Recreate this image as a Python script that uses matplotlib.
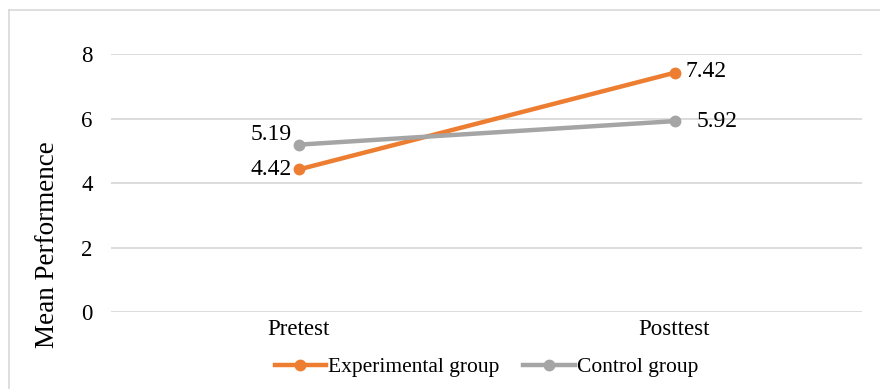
import matplotlib.pyplot as plt
from matplotlib.lines import Line2D

# data
categories = ['Pretest', 'Posttest']
experimental = [4.42, 7.42]
control = [5.19, 5.92]

plt.rcParams['font.family'] = ['Liberation Serif', 'DejaVu Serif']

fig = plt.figure(figsize=(8.8, 3.89), dpi=100)
ax = fig.add_axes([0.126, 0.198, 0.854, 0.663])

x = list(range(len(categories)))
ax.plot(x, experimental, color='#ED7D31', lw=3.2, marker='o', ms=7.5,
        label='Experimental group', zorder=3)
ax.plot(x, control, color='#A5A5A5', lw=3.2, marker='o', ms=7.5,
        label='Control group', zorder=3)

# data labels
lab_fs = 17
ax.annotate(f'{experimental[0]:.2f}', (x[0], experimental[0]), xytext=(-5, 0),
            textcoords='offset points', ha='right', va='center', fontsize=lab_fs)
ax.annotate(f'{control[0]:.2f}', (x[0], control[0]), xytext=(-5, 7),
            textcoords='offset points', ha='right', va='center', fontsize=lab_fs)
ax.annotate(f'{experimental[1]:.2f}', (x[1], experimental[1]), xytext=(8, 1),
            textcoords='offset points', ha='left', va='center', fontsize=lab_fs)
ax.annotate(f'{control[1]:.2f}', (x[1], control[1]), xytext=(16, 0),
            textcoords='offset points', ha='left', va='center', fontsize=lab_fs)

ax.set_xlim(-0.5, 1.5)
ax.set_ylim(0, 8)
ax.set_yticks([0, 2, 4, 6, 8])
ax.set_xticks(x)
ax.set_xticklabels(categories)
ax.tick_params(axis='both', length=0, labelsize=16.5)
ax.tick_params(axis='y', pad=13)
ax.tick_params(axis='x', pad=5)
ax.grid(axis='y', color='#D9D9D9', lw=1.3)
ax.set_axisbelow(True)
for s in ax.spines.values():
    s.set_visible(False)
ax.set_ylabel('Mean Performence', fontsize=19.5)
ax.yaxis.set_label_coords(-0.068, 0.26)

leg = fig.legend(loc='center', bbox_to_anchor=(0.553, 0.056), ncol=2, frameon=False,
                 fontsize=15.5, handlelength=2.4, handletextpad=0.1, columnspacing=1.1)

# outer border (only left and top visible)
fig.add_artist(Line2D([9 / 880, 9 / 880], [0, 1 - 10 / 389], color='#D9D9D9', lw=1.2))
fig.add_artist(Line2D([9 / 880, 1], [1 - 10 / 389, 1 - 10 / 389], color='#D9D9D9', lw=1.2))

fig.savefig('out.png', dpi=100)
